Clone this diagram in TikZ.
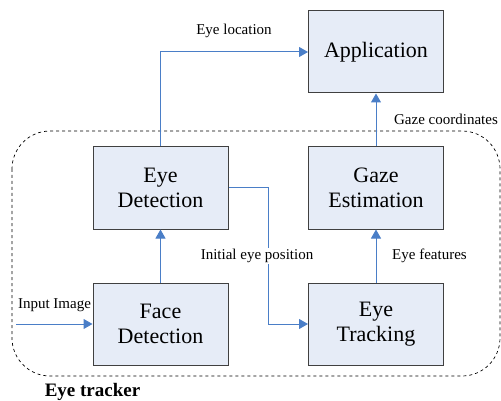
\documentclass[tikz,border=0pt]{standalone}
\usepackage{fontspec}
\setmainfont{LiberationSerif}[Extension=.ttf,UprightFont=*-Regular,BoldFont=*-Bold,ItalicFont=*-Italic,BoldItalicFont=*-BoldItalic]
\usetikzlibrary{arrows.meta}
\definecolor{boxfill}{HTML}{E6ECF7}
\definecolor{boxline}{HTML}{404040}
\definecolor{arrowc}{HTML}{4A7EC7}
\begin{document}
\begin{tikzpicture}[x=1pt,y=-1pt,
  block/.style={draw=boxline,line width=1pt,fill=boxfill,minimum width=135pt,minimum height=82pt,inner sep=0pt,align=center,font=\rmfamily\fontsize{22}{25}\selectfont},
  conn/.style={draw=arrowc,line width=1pt,-{Triangle[length=9pt,width=10pt]}},
  lbl/.style={font=\rmfamily\fontsize{15}{17}\selectfont,inner sep=1pt}]
\useasboundingbox (0,0) rectangle (501,401);
\draw[dashed,line width=0.7pt,rounded corners=38pt] (12,131) rectangle (500,376);
\node[block] (app) at (376,52) {Application};
\node[block] (eyed) at (160.5,188) {Eye\\Detection};
\node[block] (gaze) at (376,188) {Gaze\\Estimation};
\node[block] (face) at (160.5,324) {Face\\Detection};
\node[block] (track) at (376,324) {Eye\\Tracking};
\coordinate (inp) at (16,324);
\draw[conn] (eyed.north) |- (app.west);
\draw[conn] (gaze.north) -- (app.south);
\draw[conn] (face.north) -- (eyed.south);
\draw[conn] (track.north) -- (gaze.south);
\draw[conn] (inp) -- (face.west);
\draw[conn] (eyed.east) -- (268,188) |- (track.west);
\node[lbl] (l1) at (234,31) {Eye location};
\node[lbl] (l2) at (446,119) {Gaze coordinates};
\node[lbl,fill=white] (l3) at (257,256) {Initial eye position};
\node[lbl] (l4) at (429.5,256) {Eye features};
\node[lbl] (l5) at (54.5,305) {Input Image};
\node[font=\rmfamily\bfseries\fontsize{19}{21}\selectfont,inner sep=0pt] (l6) at (92.5,392) {Eye tracker};
\end{tikzpicture}
\end{document}
